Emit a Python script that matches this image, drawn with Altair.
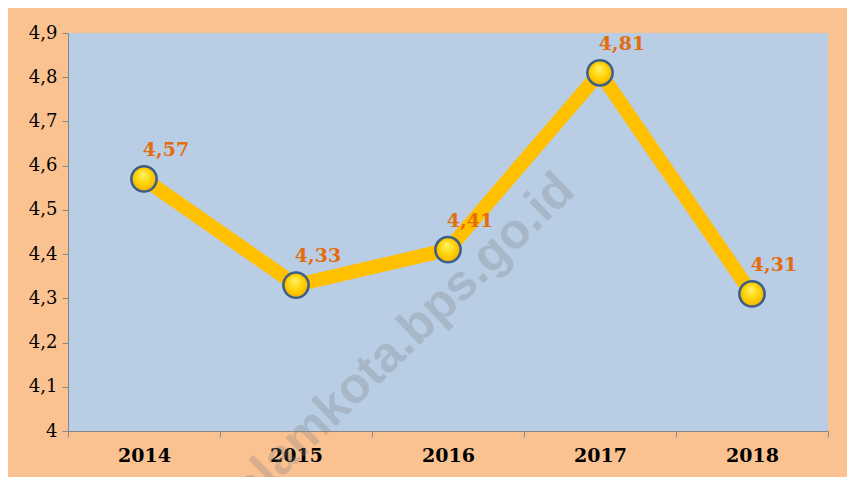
import altair as alt
import pandas as pd

years = ["2014", "2015", "2016", "2017", "2018"]
values = [4.57, 4.33, 4.41, 4.81, 4.31]
y_ticks = [4.0, 4.1, 4.2, 4.3, 4.4, 4.5, 4.6, 4.7, 4.8, 4.9]
watermark = "subulussalamkota.bps.go.id"

df = pd.DataFrame({"year": years, "value": values})

x_enc = alt.X(
    "year:N",
    bandPosition=0.5,
    scale=alt.Scale(type="band", paddingInner=0, paddingOuter=0),
    axis=alt.Axis(
        title=None, tickBand="extent", labelAngle=0, grid=False,
        domainColor="#868686", tickColor="#868686", tickSize=6,
        labelFont="DejaVu Serif", labelFontWeight="bold", labelFontSize=19,
        labelColor="#000000", labelPadding=9,
    ),
)
y_enc = alt.Y(
    "value:Q",
    scale=alt.Scale(domain=[4.0, 4.9], nice=False, zero=False),
    axis=alt.Axis(
        title=None, values=y_ticks, grid=False,
        domainColor="#868686", tickColor="#868686", tickSize=6,
        labelFont="DejaVu Serif", labelFontSize=18, labelColor="#000000",
        labelPadding=5,
        labelExpr="replace(format(datum.value, '.2~f'), '.', ',')",
    ),
)

base = alt.Chart(df).encode(x=x_enc, y=y_enc)

wm = alt.Chart(pd.DataFrame({"t": [watermark]})).mark_text(
    font="Liberation Sans", fontWeight="bold", fontSize=50,
    angle=316, align="right", baseline="alphabetic",
    color="#808080", opacity=0.28,
).encode(text="t:N", x=alt.value(509), y=alt.value(160))

line = base.mark_line(color="#FFC000", strokeWidth=14, strokeJoin="miter")

points = base.mark_point(
    filled=True, size=640, shape="circle",
    fill=alt.RadialGradient(
        gradient="radial",
        x1=0.45, y1=0.3, r1=0.0, x2=0.5, y2=0.5, r2=0.55,
        stops=[
            alt.GradientStop(offset=0, color="#FFF36A"),
            alt.GradientStop(offset=0.6, color="#FFD000"),
            alt.GradientStop(offset=1, color="#F2A900"),
        ],
    ),
    stroke="#3A5F8B", strokeWidth=2.5, opacity=1,
)

labels = base.transform_calculate(
    lbl="replace(format(datum.value, '.2f'), '.', ',')"
).mark_text(
    font="DejaVu Serif", fontWeight="bold", fontSize=19,
    color="#E46C0A", dx=22, dy=-29, align="center", baseline="middle",
).encode(text="lbl:N")

chart = alt.layer(wm, line, points, labels).properties(
    width=760, height=398,
    autosize=alt.AutoSizeParams(type="none"),
    padding={"left": 60, "top": 25, "right": 19, "bottom": 46},
    background="#FAC191",
).configure_view(fill="#B9CDE5", stroke=None)

chart.save("out.html", embed_options={"renderer": "svg", "actions": False})
